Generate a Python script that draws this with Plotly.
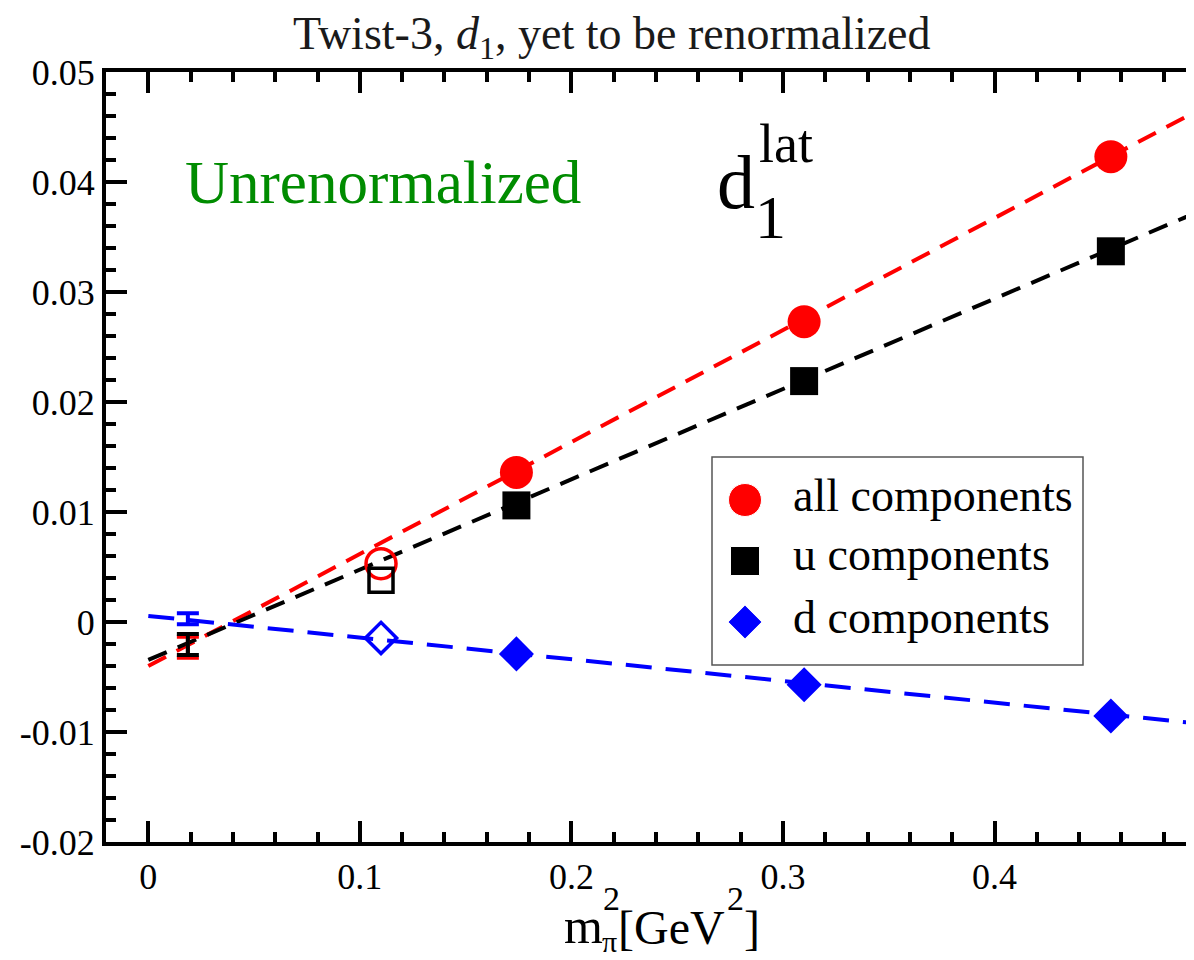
import plotly.graph_objects as go

# ---------------- data ----------------
mpi2 = [0.11, 0.174, 0.31, 0.455]
all_vals = [0.0053, 0.0136, 0.0273, 0.0423]
u_vals = [0.0038, 0.0106, 0.0219, 0.0337]
d_vals = [-0.00145, -0.0029, -0.0057, -0.00855]

# chirally extrapolated values at the physical pion mass
phys_x = [0.0187]
all_phys = [-0.0023]
all_phys_err = [0.00095]
u_phys = [-0.00205]
u_phys_err = [0.00095]
d_phys = [0.0003]
d_phys_err = [0.0005]

# linear fits (values at fit_x)
fit_x = [0.0, 0.5]
fit_all = [-0.0040, 0.0469]
fit_u = [-0.00345, 0.0376]
fit_d = [0.00055, -0.0093]

xtick_vals = [0, 0.1, 0.2, 0.3, 0.4]
xtick_text = ["0", "0.1", "0.2", "0.3", "0.4"]
ytick_vals = [-0.02, -0.01, 0, 0.01, 0.02, 0.03, 0.04, 0.05]
ytick_text = ["-0.02", "-0.01", "0", "0.01", "0.02", "0.03", "0.04", "0.05"]

legend_names = ["all components", "u components", "d components"]

RED = "#ff0000"
BLACK = "#000000"
BLUE = "#0000ff"
FONT = "Liberation Serif, Times New Roman, serif"

# page body has an 8px margin; the plot area spans viewport px 106..1194 (x), 72..842 (y)
PL, PR, PT, PB = 106, 1194, 72, 842


def px(x):
    return (x - PL) / (PR - PL)


def py(y):
    return (PB - y) / (PB - PT)


fig = go.Figure()

# fit lines
fig.add_trace(go.Scatter(x=fit_x, y=fit_all, mode="lines",
                         line=dict(color=RED, width=4, dash="20px,12px"), showlegend=False))
fig.add_trace(go.Scatter(x=fit_x, y=fit_u, mode="lines",
                         line=dict(color=BLACK, width=4, dash="20px,12px"), showlegend=False))
fig.add_trace(go.Scatter(x=fit_x, y=fit_d, mode="lines",
                         line=dict(color=BLUE, width=4, dash="26px,14px"), showlegend=False))

# extrapolated values (error bars only)
for yv, ev, col in [(d_phys, d_phys_err, BLUE), (all_phys, all_phys_err, RED), (u_phys, u_phys_err, BLACK)]:
    fig.add_trace(go.Scatter(x=phys_x, y=yv, mode="markers",
                             marker=dict(size=1, color="rgba(0,0,0,0)"),
                             error_y=dict(type="data", array=ev, color=col, thickness=4, width=11),
                             showlegend=False))

# open (lightest) points
fig.add_trace(go.Scatter(x=mpi2[:1], y=all_vals[:1], mode="markers",
                         marker=dict(symbol="circle-open", size=30, color=RED, line=dict(width=3.5, color=RED)),
                         showlegend=False))
fig.add_trace(go.Scatter(x=mpi2[:1], y=u_vals[:1], mode="markers",
                         marker=dict(symbol="square-open", size=24, color=BLACK, line=dict(width=3.5, color=BLACK)),
                         showlegend=False))
fig.add_trace(go.Scatter(x=mpi2[:1], y=d_vals[:1], mode="markers",
                         marker=dict(symbol="diamond-open", size=24, color=BLUE, line=dict(width=3.5, color=BLUE)),
                         showlegend=False))

# filled points
fig.add_trace(go.Scatter(x=mpi2[1:], y=all_vals[1:], mode="markers", name=legend_names[0],
                         marker=dict(symbol="circle", size=33, color=RED), showlegend=False))
fig.add_trace(go.Scatter(x=mpi2[1:], y=u_vals[1:], mode="markers", name=legend_names[1],
                         marker=dict(symbol="square", size=28, color=BLACK), showlegend=False))
fig.add_trace(go.Scatter(x=mpi2[1:], y=d_vals[1:], mode="markers", name=legend_names[2],
                         marker=dict(symbol="diamond", size=27, color=BLUE), showlegend=False))

# right-hand axis ticks (axis itself lies just beyond the picture)
fig.add_trace(go.Scatter(x=[], y=[], yaxis="y2", showlegend=False, hoverinfo="skip"))

# manual legend symbols, drawn in a pixel-coordinate overlay
LX = 745
LY = [500, 561, 622]
fig.add_trace(go.Scatter(x=[LX] * 3, y=LY, xaxis="x3", yaxis="y3", mode="markers",
                         marker=dict(symbol=["circle", "square", "diamond"], size=[33, 29, 26],
                                     color=[RED, BLACK, BLUE], opacity=1),
                         showlegend=False, hoverinfo="skip"))

fig.add_shape(type="rect", xref="x3", yref="y3", x0=712, x1=1083, y0=457, y1=665,
              line=dict(color="#555555", width=1.5), fillcolor="white", layer="below")


def text(x, y, s, size, color="black", anchor="left"):
    return dict(x=px(x), y=py(y), xref="paper", yref="paper", text=s, showarrow=False,
                xanchor=anchor, yanchor="middle", font=dict(family=FONT, size=size, color=color))


ann = []
for name, y in zip(legend_names, [496, 554, 617]):
    ann.append(text(791, y, name, 46))

ann += [
    text(612, 37, "Twist-3, <i>d</i><sub>1</sub>, yet to be renormalized", 46, "#1a1a1a", "center"),
    text(183, 182, "Unrenormalized", 61, "#008c00"),
    text(715, 182, "d", 76),
    text(757, 144, "lat", 54),
    text(753, 217, "1", 62),
    # x-axis title m_pi^2 [GeV^2]
    text(562, 926, "m", 50),
    text(601, 898, "2", 34),
    text(600, 941, "π", 30),
    text(616, 927, "[GeV", 48),
    text(725, 898, "2", 34),
    text(742, 927, "]", 48),
]

axis_common = dict(showgrid=False, zeroline=False, showline=True, linewidth=4, linecolor="black",
                   ticks="inside", ticklen=21, tickwidth=4, tickcolor="black",
                   tickfont=dict(family=FONT, size=36, color="black"))

fig.update_layout(
    width=1186, height=952,
    margin=dict(l=98, r=0, t=64, b=118),
    paper_bgcolor="white", plot_bgcolor="white",
    showlegend=False,
    annotations=ann,
    xaxis=dict(range=[-0.02, 0.4943], tickvals=xtick_vals, ticktext=xtick_text, mirror="ticks",
               minor=dict(tick0=0, dtick=0.02, ticks="inside", ticklen=10, tickwidth=4, tickcolor="black"),
               **axis_common),
    yaxis=dict(range=[-0.02, 0.05], tickvals=ytick_vals, ticktext=ytick_text, mirror=False,
               minor=dict(tick0=0, dtick=0.002, ticks="inside", ticklen=10, tickwidth=4, tickcolor="black"),
               **axis_common),
    yaxis2=dict(range=[-0.02, 0.05], overlaying="y", side="right", showgrid=False, zeroline=False,
                showline=False, ticks="inside", ticklen=8, tickwidth=4, tickcolor="black",
                tickvals=ytick_vals, showticklabels=False),
    xaxis3=dict(range=[PL, PR], overlaying="x", anchor="y3", visible=False),
    yaxis3=dict(range=[PB, PT], overlaying="y", anchor="x3", visible=False),
)

fig.write_html("out.html")
